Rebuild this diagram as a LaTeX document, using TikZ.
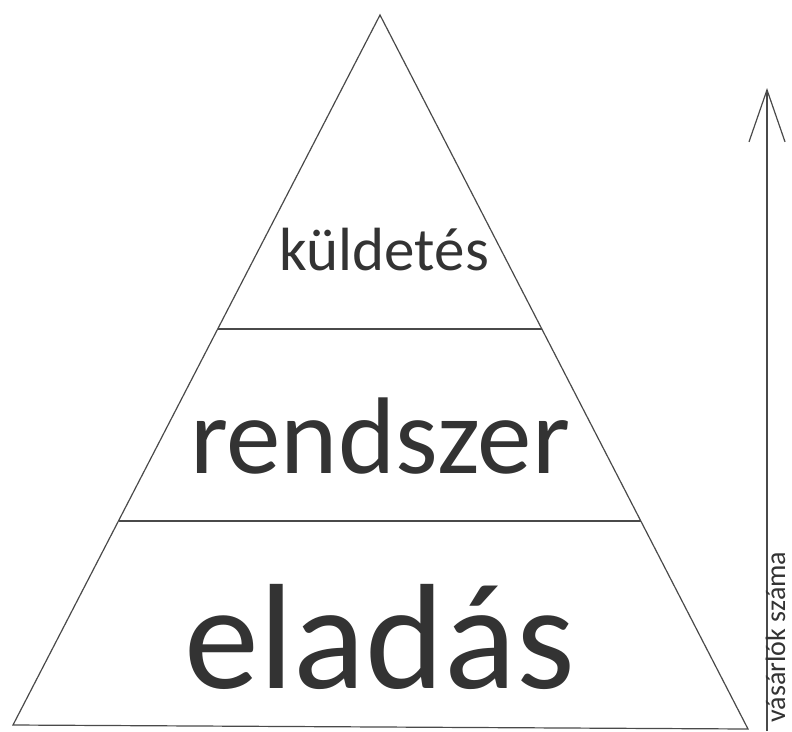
\documentclass[tikz,border=0pt]{standalone}
\usepackage{fontspec}
\setmainfont{Carlito}
\usetikzlibrary{arrows.meta}
\definecolor{ink}{HTML}{333333}
\definecolor{edge}{HTML}{4A4A4A}
\begin{document}
\begin{tikzpicture}[x=1pt,y=-1pt,
  outline/.style={draw=edge,line width=1.2pt,line join=miter},
  label/.style={text=ink,anchor=base,inner sep=0pt}]
\useasboundingbox (0,0) rectangle (792,731);
\fill[white] (0,0) rectangle (792,731);
% pyramid
\coordinate (apex) at (380,15);
\coordinate (bl) at (13,725);
\coordinate (br) at (748,729);
\draw[outline] (apex) -- (br) -- (bl) -- cycle;
\coordinate (l1) at (218,329);
\coordinate (r1) at (542,329);
\coordinate (l2) at (119,521);
\coordinate (r2) at (641,521);
\draw[outline] (l1) -- (r1);
\draw[outline] (l2) -- (r2);
% labels
\node[label,font=\fontsize{61}{61}\selectfont] (k) at (384,270) {küldetés};
\node[label,font=\fontsize{109}{109}\selectfont] (r) at (380,473) {rendszer};
\node[label,font=\fontsize{150}{150}\selectfont] (e) at (380,688) {eladás};
% axis arrow
\coordinate (abot) at (767,731);
\coordinate (atop) at (767,88);
\draw[outline,-{Straight Barb[length=52pt,width=36pt,line width=1.2pt]}] (abot) -- (atop);
\node[label,rotate=90,font=\fontsize{28}{28}\selectfont] (v) at (785,637) {vásárlók száma};
\end{tikzpicture}
\end{document}
